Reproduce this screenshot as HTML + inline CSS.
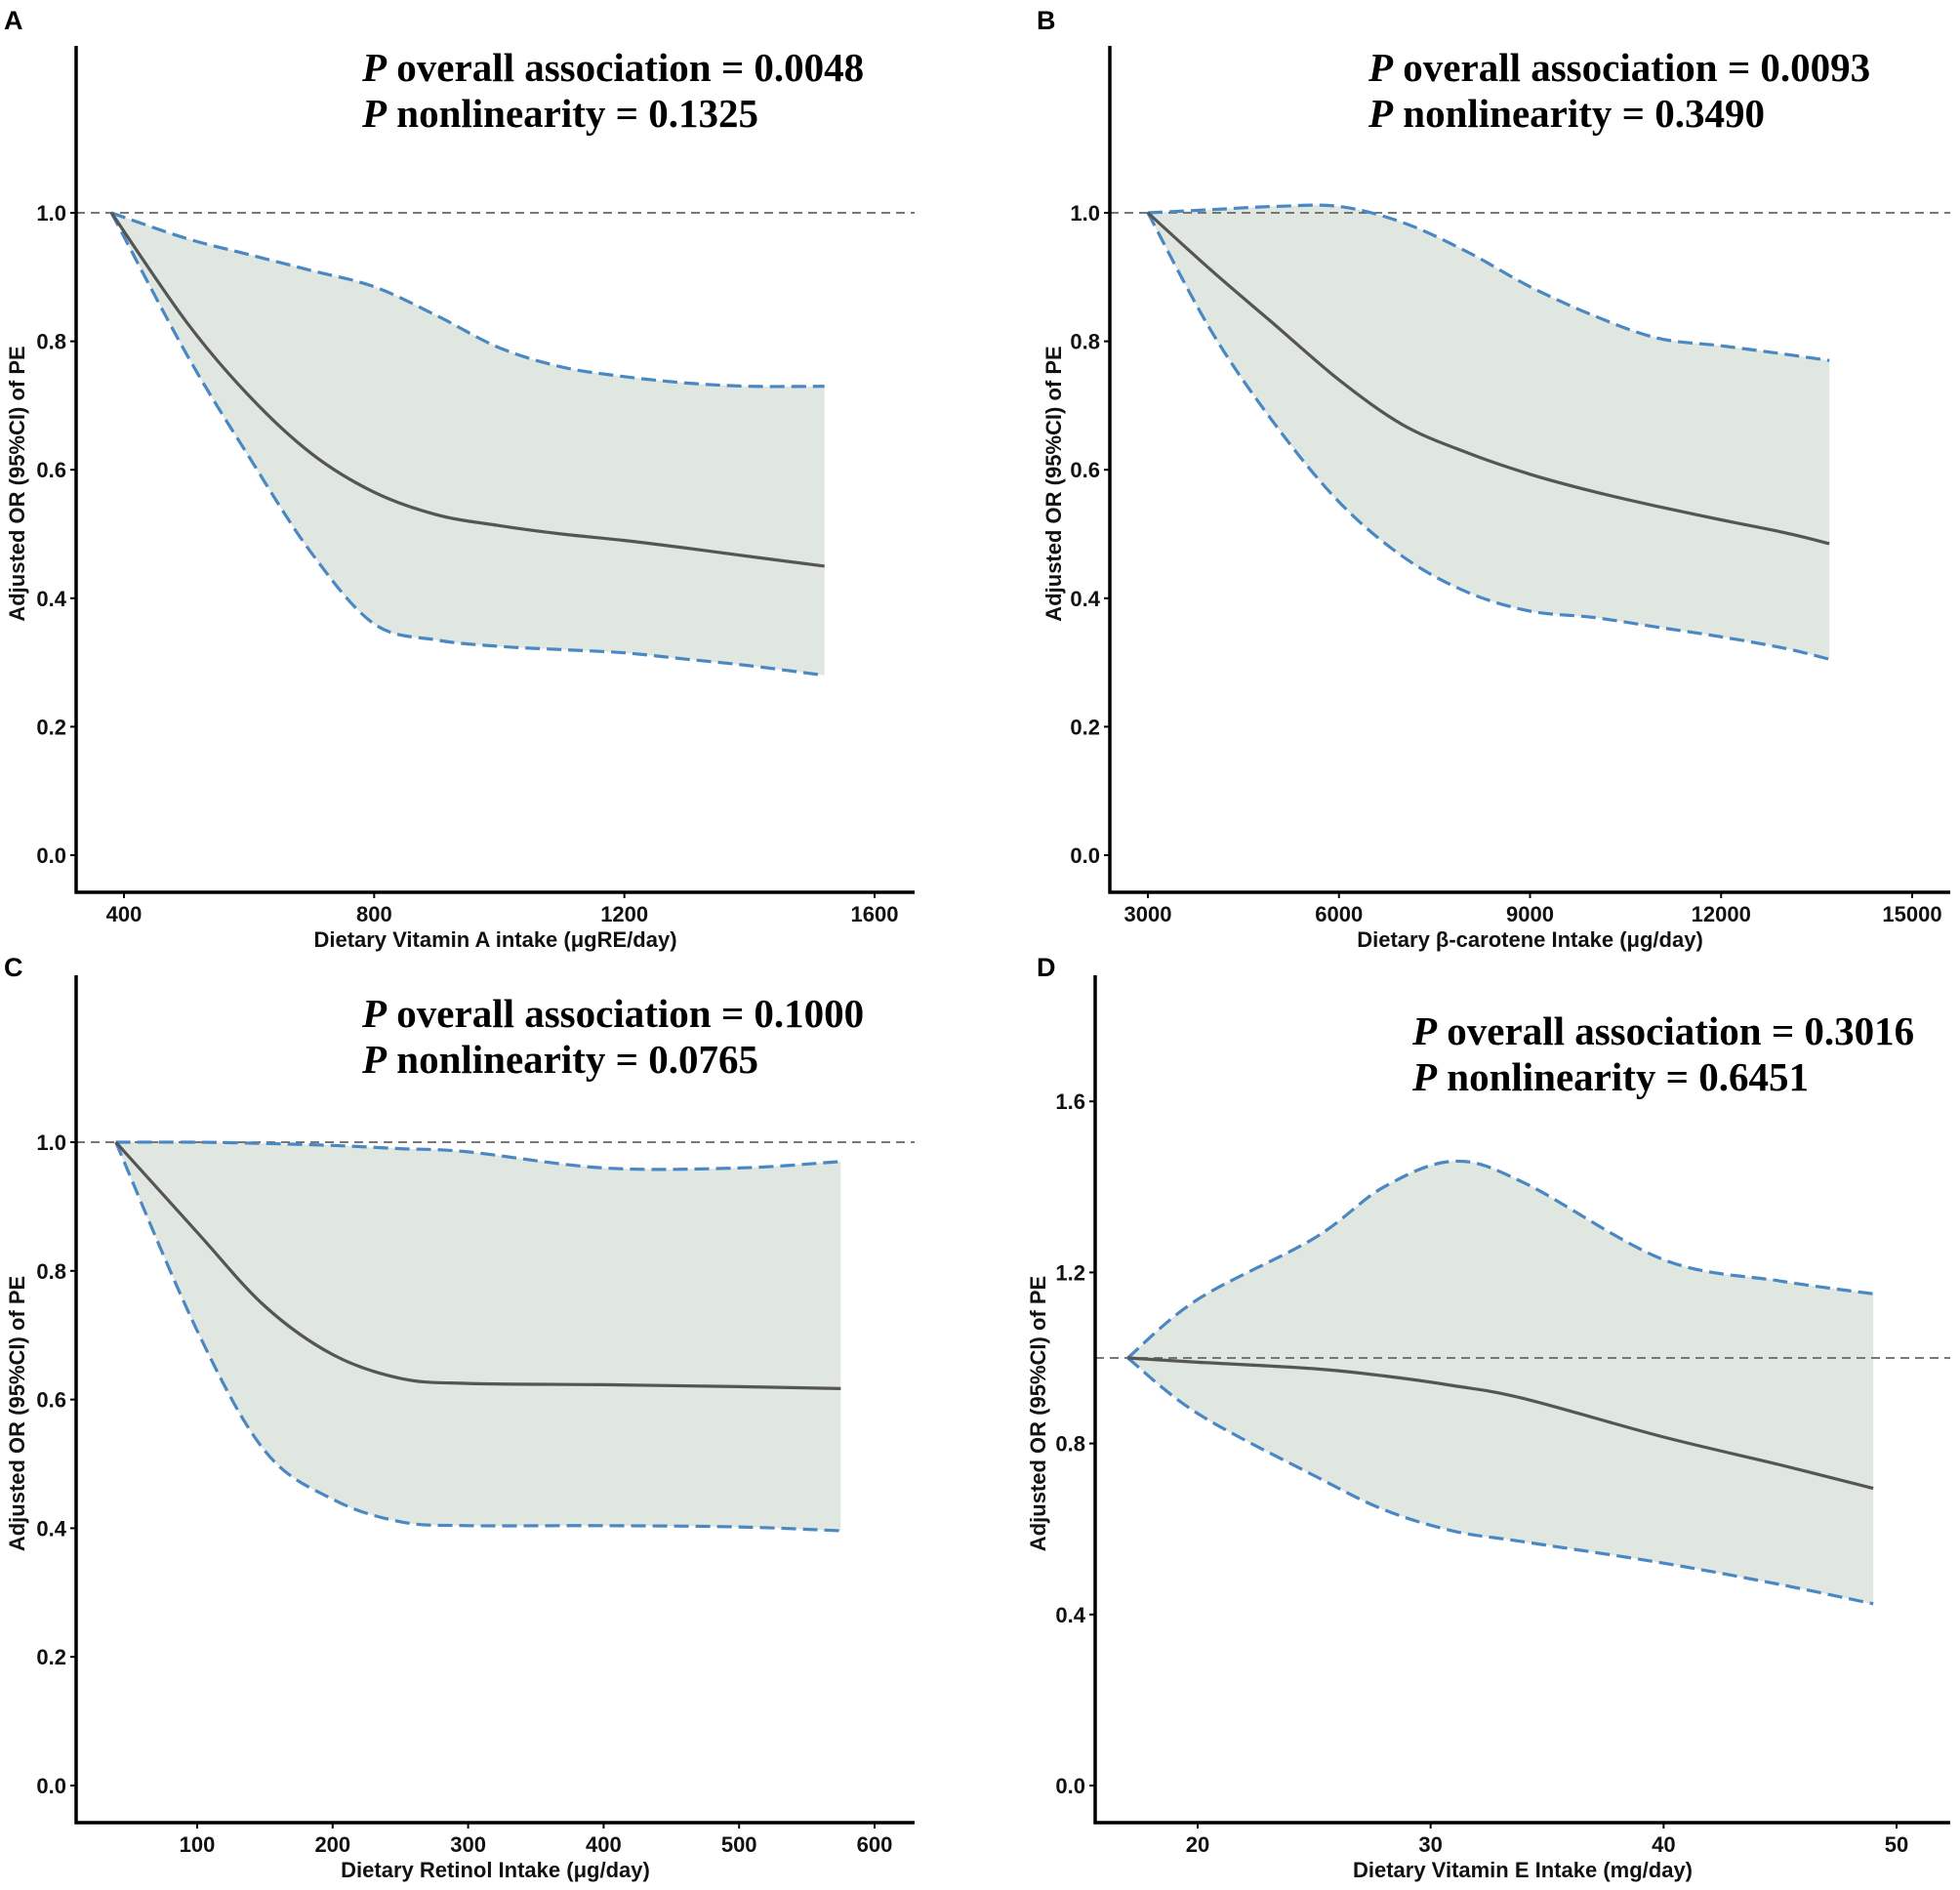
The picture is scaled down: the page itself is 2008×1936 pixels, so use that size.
<!DOCTYPE html>
<html><head><meta charset="utf-8"><style>
html,body{margin:0;padding:0;background:#fff}
svg{display:block}
text{font-family:"Liberation Sans",Arial,sans-serif}
.tk{font-size:22px;font-weight:bold;fill:#111}
.at{font-size:22px;font-weight:bold;fill:#111}
.ann{font-family:"Liberation Serif",serif;font-size:41px;font-weight:bold;fill:#000}
.lt{font-size:27px;font-weight:bold;fill:#000}
</style></head><body>
<svg id="fig" width="2008" height="1936" viewBox="0 0 2008 1936" xmlns="http://www.w3.org/2000/svg"></svg>
<script>
// Panel A data
const aX=[380,500,600,700,800,900,1000,1100,1200,1300,1400,1520];
const aEst=[1,0.83,0.715,0.625,0.565,0.53,0.513,0.5,0.49,0.478,0.465,0.45];
const aLo=[1,0.78,0.62,0.47,0.36,0.335,0.325,0.32,0.315,0.305,0.295,0.28];
const aHi=[1,0.96,0.935,0.91,0.885,0.84,0.79,0.76,0.745,0.735,0.73,0.73];
const aXTicks=[400,800,1200,1600];
const aYTicks=[0,0.2,0.4,0.6,0.8,1.0];
// Panel B data
const bX=[3000,4000,5000,6000,7000,8000,9000,10000,11000,12000,13000,13700];
const bEst=[1,0.91,0.825,0.74,0.67,0.627,0.593,0.566,0.543,0.522,0.502,0.485];
const bLo=[1,0.815,0.67,0.55,0.465,0.41,0.38,0.37,0.355,0.34,0.322,0.305];
const bHi=[1,1.005,1.01,1.01,0.985,0.94,0.885,0.84,0.805,0.793,0.78,0.77];
const bXTicks=[3000,6000,9000,12000,15000];
const bYTicks=[0,0.2,0.4,0.6,0.8,1.0];
// Panel C data
const cX=[40,100,150,200,250,300,400,500,575];
const cEst=[1,0.86,0.745,0.67,0.633,0.625,0.623,0.62,0.617];
const cLo=[1,0.707,0.52,0.445,0.41,0.404,0.404,0.402,0.396];
const cHi=[1,1.0,0.998,0.995,0.99,0.985,0.96,0.96,0.97];
const cXTicks=[100,200,300,400,500,600];
const cYTicks=[0,0.2,0.4,0.6,0.8,1.0];
// Panel D data
const dX=[17,20,25,28,31,34,40,45,49];
const dEst=[1,0.99,0.975,0.958,0.935,0.905,0.815,0.75,0.695];
const dLo=[1,0.87,0.725,0.645,0.595,0.57,0.52,0.47,0.425];
const dHi=[1,1.137,1.28,1.40,1.46,1.41,1.23,1.18,1.15];
const dXTicks=[20,30,40,50];
const dYTicks=[0,0.4,0.8,1.2,1.6];

const NS="http://www.w3.org/2000/svg";
const svg=document.getElementById('fig');
function mk(tag,attrs,parent){const e=document.createElementNS(NS,tag);for(const k in attrs)e.setAttribute(k,attrs[k]);(parent||svg).appendChild(e);return e;}
function spline(pts){
  let d='M'+pts[0][0].toFixed(1)+','+pts[0][1].toFixed(1);
  for(let i=0;i<pts.length-1;i++){
    const p0=pts[Math.max(0,i-1)],p1=pts[i],p2=pts[i+1],p3=pts[Math.min(pts.length-1,i+2)];
    const c1=[p1[0]+(p2[0]-p0[0])/6,p1[1]+(p2[1]-p0[1])/6];
    const c2=[p2[0]-(p3[0]-p1[0])/6,p2[1]-(p3[1]-p1[1])/6];
    d+=' C'+c1[0].toFixed(1)+','+c1[1].toFixed(1)+' '+c2[0].toFixed(1)+','+c2[1].toFixed(1)+' '+p2[0].toFixed(1)+','+p2[1].toFixed(1);
  }
  return d;
}
function panel(cfg){
  const g=mk('g',{});
  
  
  const xs=v=>cfg.x0p+(v-cfg.x0)/(cfg.x1-cfg.x0)*(cfg.x1p-cfg.x0p);
  const ys=v=>cfg.y0p+v*(cfg.y1p-cfg.y0p);
  const hiP=cfg.X.map((x,i)=>[xs(x),ys(cfg.hi[i])]);
  const loP=cfg.X.map((x,i)=>[xs(x),ys(cfg.lo[i])]);
  const estP=cfg.X.map((x,i)=>[xs(x),ys(cfg.est[i])]);
  const hiD=spline(hiP);
  const loRev=spline(loP.slice().reverse());
  const band=mk('path',{d:hiD+' L'+loRev.slice(1)+' Z',fill:'#e0e6e0',stroke:'none'},g);
  
  
  const ref=mk('line',{x1:cfg.ax,x2:cfg.right,y1:ys(1),y2:ys(1),stroke:'#666','stroke-width':1.8,'stroke-dasharray':'9 6'},g);
  
  
  const hl=mk('path',{d:hiD,fill:'none',stroke:'#4a88c4','stroke-width':3.2,'stroke-dasharray':'15 7'},g);
  
  
  const ll=mk('path',{d:spline(loP),fill:'none',stroke:'#4a88c4','stroke-width':3.2,'stroke-dasharray':'15 7'},g);
  
  
  const el=mk('path',{d:spline(estP),fill:'none',stroke:'#555','stroke-width':3.2},g);
  
  
  const ya=mk('line',{x1:cfg.ax,x2:cfg.ax,y1:cfg.top,y2:cfg.bottom+1.5,stroke:'#000','stroke-width':3.5},g);
  
  
  const xa=mk('line',{x1:cfg.ax-1.5,x2:cfg.right,y1:cfg.bottom,y2:cfg.bottom,stroke:'#000','stroke-width':3.5},g);
  
  
  cfg.yt.forEach(v=>{
    mk('line',{x1:cfg.ax-6,x2:cfg.ax,y1:ys(v),y2:ys(v),stroke:'#000','stroke-width':2},g);
    const t=mk('text',{x:cfg.ax-10,y:ys(v)+8,'text-anchor':'end',class:'tk'},g);
    
    
    t.textContent=v.toFixed(1);
  });
  cfg.xt.forEach(v=>{
    mk('line',{x1:xs(v),x2:xs(v),y1:cfg.bottom,y2:cfg.bottom+6,stroke:'#000','stroke-width':2},g);
    const t=mk('text',{x:xs(v),y:cfg.bottom+30,'text-anchor':'middle',class:'tk'},g);
    
    
    t.textContent=String(v);
  });
  const xt=mk('text',{x:(cfg.ax+cfg.right)/2,y:cfg.bottom+56,'text-anchor':'middle',class:'at'},g);
  
  
  xt.textContent=cfg.xtitle;
  const cy=(cfg.top+cfg.bottom)/2+15;
  const yt=mk('text',{x:cfg.ytx,y:cy,'text-anchor':'middle',class:'at',transform:'rotate(-90 '+cfg.ytx+' '+cy+')'},g);
  
  
  yt.textContent='Adjusted OR (95%CI) of PE';
  const lt=mk('text',{x:cfg.lx,y:cfg.ly,class:'lt'},g);
  
  
  lt.textContent=cfg.id;
  cfg.ann.forEach((s,i)=>{
    const t=mk('text',{x:cfg.annx,y:cfg.anny+i*47,class:'ann'},g);
    
    
    const p=mk('tspan',{'font-style':'italic'},t);p.textContent='P';
    const r=mk('tspan',{},t);r.textContent=s;
  });
}
panel({id:'A',X:aX,est:aEst,lo:aLo,hi:aHi,xt:aXTicks,yt:aYTicks,x0:400,x1:1600,x0p:127,x1p:896,y0p:876,y1p:218,ax:78,top:47,bottom:914,right:937,ytx:25,lx:4,ly:30,annx:371,anny:83,xtitle:'Dietary Vitamin A intake (\u03bcgRE/day)',ann:[' overall association = 0.0048',' nonlinearity = 0.1325']});
panel({id:'B',X:bX,est:bEst,lo:bLo,hi:bHi,xt:bXTicks,yt:bYTicks,x0:3000,x1:15000,x0p:1176,x1p:1959,y0p:876,y1p:218,ax:1137,top:47,bottom:914,right:1998,ytx:1087,lx:1062,ly:30,annx:1402,anny:83,xtitle:'Dietary \u03b2-carotene Intake (\u03bcg/day)',ann:[' overall association = 0.0093',' nonlinearity = 0.3490']});
panel({id:'C',X:cX,est:cEst,lo:cLo,hi:cHi,xt:cXTicks,yt:cYTicks,x0:100,x1:600,x0p:202,x1p:896,y0p:1829,y1p:1170,ax:78,top:999,bottom:1867,right:937,ytx:25,lx:4,ly:1000,annx:371,anny:1052,xtitle:'Dietary Retinol Intake (\u03bcg/day)',ann:[' overall association = 0.1000',' nonlinearity = 0.0765']});
panel({id:'D',X:dX,est:dEst,lo:dLo,hi:dHi,xt:dXTicks,yt:dYTicks,x0:20,x1:50,x0p:1227,x1p:1943,y0p:1829,y1p:1391,ax:1122,top:999,bottom:1867,right:1998,ytx:1071,lx:1062,ly:1000,annx:1447,anny:1070,xtitle:'Dietary Vitamin E Intake (mg/day)',ann:[' overall association = 0.3016',' nonlinearity = 0.6451']});
</script>
</body></html>
